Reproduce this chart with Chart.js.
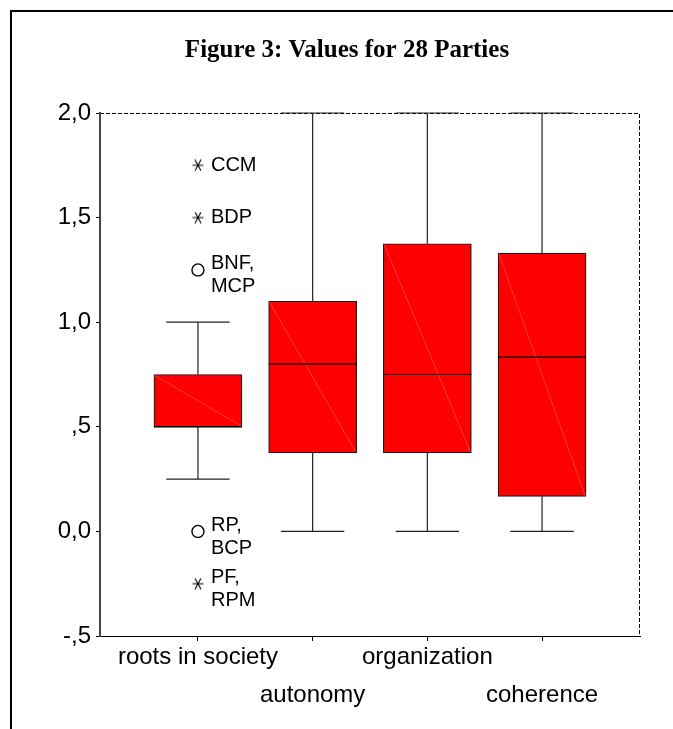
<!DOCTYPE html>
<html>
<head>
<meta charset="utf-8">
<script src="https://cdn.jsdelivr.net/npm/chart.js@4"></script>
<style>
  html, body { margin: 0; padding: 0; background: #fff; }
  #wrap { width: 673px; height: 729px; }
</style>
</head>
<body>
<div id="wrap"><canvas id="boxChart" width="673" height="729"></canvas></div>
<script>
// categories, positions on the x scale
const categories = ['roots in society', 'autonomy', 'organization', 'coherence'];
const catPos = [1, 2, 3, 4];

// box plot statistics per category
const whiskerLow = [0.25, 0, 0, 0];
const q1 = [0.5, 0.375, 0.375, 0.167];
const median = [0.5, 0.8, 0.75, 0.833];
const q3 = [0.75, 1.1, 1.375, 1.33];
const whiskerHigh = [1.0, 2.0, 2.0, 2.0];

// outliers (all in "roots in society")
const outlierCat = [1, 1, 1, 1, 1];
const outlierValues = [1.75, 1.5, 1.25, 0, -0.25];
const outlierKind = ['extreme', 'extreme', 'outlier', 'outlier', 'extreme'];
const outlierLabels = [['CCM'], ['BDP'], ['BNF,', 'MCP'], ['RP,', 'BCP'], ['PF,', 'RPM']];

// y ticks
const yTicks = [-0.5, 0, 0.5, 1.0, 1.5, 2.0];
const yTickLabels = ['-,5', '0,0', ',5', '1,0', '1,5', '2,0'];

const title = 'Figure 3: Values for 28 Parties';
const SANS = '"Liberation Sans", Arial, sans-serif';

// six-armed asterisk used by SPSS for extreme values
function makeStar() {
    const c = document.createElement('canvas');
    c.width = 12; c.height = 12;
    const g = c.getContext('2d');
    g.strokeStyle = '#000';
    g.lineWidth = 1.1;
    g.beginPath();
    g.moveTo(0.5, 6); g.lineTo(11.5, 6);
    g.moveTo(3, 0.5); g.lineTo(9, 11.5);
    g.moveTo(9, 0.5); g.lineTo(3, 11.5);
    g.stroke();
    return c;
}
const starImg = makeStar();

const extremes = [], outliers = [];
outlierValues.forEach((v, i) => {
    const p = { x: outlierCat[i], y: v, lbl: outlierLabels[i] };
    (outlierKind[i] === 'extreme' ? extremes : outliers).push(p);
});

const boxPlugin = {
    id: 'boxPlugin',
    beforeDraw(chart) {
        const ctx = chart.ctx;
        const a = chart.chartArea;
        ctx.save();
        // outer frame
        ctx.strokeStyle = '#000';
        ctx.lineWidth = 2;
        ctx.beginPath();
        ctx.moveTo(11, 729);
        ctx.lineTo(11, 11);
        ctx.lineTo(673, 11);
        ctx.stroke();
        // title
        ctx.fillStyle = '#000';
        ctx.font = 'bold 25px "Liberation Serif", "Times New Roman", serif';
        ctx.textAlign = 'center';
        ctx.textBaseline = 'alphabetic';
        ctx.fillText(title, 347, 57);
        // dashed top / right plot border
        ctx.lineWidth = 1;
        ctx.setLineDash([4, 2]);
        ctx.beginPath();
        ctx.moveTo(a.left, a.top + 0.5);
        ctx.lineTo(a.right - 0.5, a.top + 0.5);
        ctx.lineTo(a.right - 0.5, a.bottom);
        ctx.stroke();
        ctx.restore();
    },
    beforeDatasetsDraw(chart) {
        const ctx = chart.ctx;
        const xs = chart.scales.x, ys = chart.scales.y;
        const bars = chart.getDatasetMeta(0).data;
        ctx.save();
        ctx.strokeStyle = '#222';
        ctx.lineWidth = 1.2;
        catPos.forEach((c, i) => {
            const x = xs.getPixelForValue(c);
            const cap = bars[i].width * 0.36;
            const lo = ys.getPixelForValue(whiskerLow[i]);
            const hi = ys.getPixelForValue(whiskerHigh[i]);
            ctx.beginPath();
            ctx.moveTo(x, lo); ctx.lineTo(x, ys.getPixelForValue(q1[i]));
            ctx.moveTo(x, hi); ctx.lineTo(x, ys.getPixelForValue(q3[i]));
            ctx.moveTo(x - cap, lo); ctx.lineTo(x + cap, lo);
            ctx.moveTo(x - cap, hi); ctx.lineTo(x + cap, hi);
            ctx.stroke();
        });
        ctx.restore();
    },
    afterDatasetDraw(chart, args) {
        if (args.index !== 0) return;
        const ctx = chart.ctx;
        const ys = chart.scales.y;
        const bars = chart.getDatasetMeta(0).data;
        ctx.save();
        bars.forEach((b, i) => {
            const l = b.x - b.width / 2, r = b.x + b.width / 2;
            const t = ys.getPixelForValue(q3[i]), btm = ys.getPixelForValue(q1[i]);
            // faint diagonal seen in the original rendering
            ctx.strokeStyle = 'rgba(255,120,120,0.8)';
            ctx.lineWidth = 0.6;
            ctx.beginPath();
            ctx.moveTo(l + 1, t + 1); ctx.lineTo(r - 1, btm - 1);
            ctx.stroke();
            // median
            const m = ys.getPixelForValue(median[i]);
            ctx.strokeStyle = '#000';
            ctx.lineWidth = 1.2;
            ctx.beginPath();
            ctx.moveTo(l, m); ctx.lineTo(r, m);
            ctx.stroke();
        });
        ctx.restore();
    },
    afterDatasetsDraw(chart) {
        const ctx = chart.ctx;
        ctx.save();
        ctx.fillStyle = '#000';
        ctx.font = '20px ' + SANS;
        ctx.textAlign = 'left';
        ctx.textBaseline = 'middle';
        [1, 2].forEach(di => {
            const meta = chart.getDatasetMeta(di);
            const data = chart.data.datasets[di].data;
            meta.data.forEach((pt, j) => {
                const lines = data[j].lbl;
                const y0 = lines.length > 1 ? pt.y - 6 : pt.y;
                lines.forEach((s, k) => ctx.fillText(s, pt.x + 13, y0 + k * 23));
            });
        });
        ctx.restore();
    }
};

new Chart(document.getElementById('boxChart'), {
    type: 'bar',
    data: {
        datasets: [
            {
                label: 'box',
                data: catPos.map((c, i) => ({ x: c, y: [q1[i], q3[i]] })),
                backgroundColor: '#ff0000',
                borderColor: '#1a1a1a',
                borderWidth: 1.2,
                borderSkipped: false,
                barThickness: 88
            },
            {
                type: 'scatter',
                label: 'extreme',
                data: extremes,
                pointStyle: starImg,
                pointRadius: 6
            },
            {
                type: 'scatter',
                label: 'outlier',
                data: outliers,
                pointStyle: 'circle',
                pointRadius: 6,
                borderColor: '#000',
                borderWidth: 1.4,
                backgroundColor: '#fff'
            }
        ]
    },
    options: {
        responsive: false,
        animation: false,
        devicePixelRatio: 1,
        layout: { padding: { left: 0, right: 33, top: 113, bottom: 0 } },
        plugins: { legend: { display: false }, tooltip: { enabled: false }, title: { display: false } },
        scales: {
            x: {
                type: 'linear',
                min: 0.146,
                max: 4.854,
                offset: false,
                afterBuildTicks: axis => { axis.ticks = catPos.map(v => ({ value: v })); },
                afterFit: axis => { axis.height = 93; },
                grid: { offset: false, drawOnChartArea: false, drawTicks: true, tickLength: 5, tickColor: '#000' },
                border: { display: true, color: '#000', width: 1, dash: [4, 2] },
                ticks: {
                    autoSkip: false,
                    maxRotation: 0,
                    minRotation: 0,
                    padding: -3,
                    color: '#000',
                    font: { family: SANS, size: 24, lineHeight: 1.58 },
                    callback: (v, i) => i % 2 === 0 ? categories[i] : ['', categories[i]]
                }
            },
            y: {
                min: -0.5,
                max: 2.0,
                afterBuildTicks: axis => { axis.ticks = yTicks.map(v => ({ value: v })); },
                afterFit: axis => { axis.width = 100; },
                grid: { drawOnChartArea: false, drawTicks: true, tickLength: 4, tickColor: '#000' },
                border: { display: true, color: '#444', width: 2, dash: [2, 1] },
                ticks: {
                    padding: 5,
                    color: '#000',
                    font: { family: SANS, size: 24 },
                    callback: (v, i) => yTickLabels[i]
                }
            }
        }
    },
    plugins: [boxPlugin]
});
</script>
</body>
</html>
